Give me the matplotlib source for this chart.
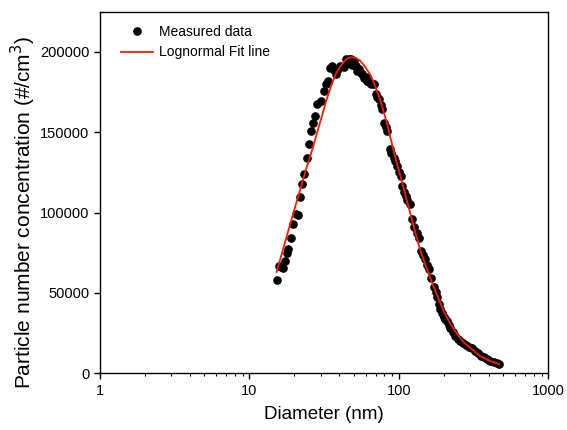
import numpy as np
import matplotlib
matplotlib.use("Agg")
import matplotlib.pyplot as plt
from matplotlib.ticker import FixedLocator, LogLocator, FuncFormatter, MultipleLocator

plt.rcParams['font.family'] = ['Liberation Sans', 'DejaVu Sans']

# --- measured SMPS data (diameter in nm, dN/dlogDp in #/cm3) ---
diam = [15.2, 15.8, 16.3, 16.8, 17.3, 17.9, 18.2, 18.9, 19.6, 20.4, 21.2, 21.7,
        22.6, 23.1, 24.1, 25.0, 25.9, 26.6, 27.3, 28.4, 30.0, 31.4, 32.4, 33.4,
        34.6, 35.9, 36.8, 37.7, 39.0, 40.6, 42.7, 44.0, 45.2, 46.3, 47.5, 48.7,
        50.0, 51.3, 52.6, 54.0, 55.4, 56.9, 58.3, 59.9, 61.5, 63.0, 64.6, 68.0,
        69.8, 71.6, 73.5, 75.4, 77.4, 79.4, 81.5, 83.5, 86.9, 89.0, 92.4, 94.7,
        97.3, 100.0, 102.5, 105.3, 107.9, 110.8, 113.6, 118.4, 122.8, 127.0, 132.6,
        135.4, 140.7, 145.0, 150.2, 154.0, 158.6, 164.7, 171.6, 176.0, 180.3,
        184.9, 189.6, 194.6, 200.0, 205.0, 210.0, 215.0, 220.0, 230.0, 239.0,
        248.0, 258.0, 270.0, 283.0, 296.0, 310.0, 325.0, 340.0, 355.0, 372.0,
        390.0, 409.0, 430.0, 453.0, 470.0]
conc = [57800, 66700, 66000, 65600, 70000, 75000, 77100, 84300, 93100, 98900,
        98300, 109900, 117600, 124200, 134200, 142600, 150900, 156000, 160200,
        167500, 169600, 175800, 180000, 182000, 190000, 191400, 189000, 186200,
        189500, 191400, 190300, 195600, 193000, 195600, 195600, 192000, 194500,
        191000, 188300, 189300, 187000, 186200, 184000, 184500, 182000, 181000,
        180000, 180000, 173700, 172000, 170600, 167000, 164400, 156000, 153000,
        150900, 139400, 137000, 134200, 132000, 129000, 125000, 122800, 116600,
        113000, 110300, 108000, 105200, 95800, 91000, 87500, 84300, 76000, 73500,
        70900, 67500, 64600, 59400, 53700, 50500, 47700, 42800, 40000, 37600,
        35000, 33500, 32400, 30000, 28200, 25500, 23100, 21500, 19900, 18800,
        17900, 16500, 15800, 14000, 12700, 11000, 10000, 9000, 7900, 7200, 6400,
        5500]

# --- lognormal fit line ---
fit_d = [15.2, 17.0, 18.5, 20.0, 21.5, 22.9, 24.5, 26.4, 28.2, 30.3, 33.0, 35.9,
         38.0, 40.7, 43.0, 45.0, 47.0, 48.9, 51.0, 53.0, 55.0, 58.0, 61.0, 64.6,
         68.0, 75.4, 83.5, 92.4, 101.4, 119.5, 139.4, 162.5, 184.9, 199.6, 220.0,
         245.0, 270.0, 300.6, 350.7, 400.0, 470.0]
fit_n = [63000, 79000, 91000, 102000, 112000, 121000, 130000, 139500, 149000,
         159000, 171000, 181000, 186500, 191000, 194000, 195800, 196500, 196600,
         196300, 195500, 194500, 192000, 189000, 185500, 181000, 169500, 155000,
         138000, 124000, 99000, 76000, 59000, 46000, 38500, 31000, 24500, 19500,
         15800, 10600, 8000, 5600]

fig = plt.figure(figsize=(5.67, 4.30), dpi=100)
ax = fig.add_axes([0.1764, 0.1319, 0.7907, 0.841])

ax.plot(diam, conc, 'o', color='black', ms=5.2, mec='black', label='Measured data', zorder=2)
ax.plot(fit_d, fit_n, '-', color='#ff1a00', lw=1.3, label='Lognormal Fit line', zorder=3)

ax.set_xscale('log')
ax.set_xlim(1, 1000)
ax.set_ylim(0, 225000)
ax.xaxis.set_major_locator(FixedLocator([1, 10, 100, 1000]))
ax.xaxis.set_minor_locator(LogLocator(base=10, subs=np.arange(2, 10)))
ax.xaxis.set_major_formatter(FuncFormatter(lambda v, p: f"{v:g}"))
ax.yaxis.set_major_locator(MultipleLocator(50000))
ax.yaxis.set_major_formatter(FuncFormatter(lambda v, p: f"{int(v)}"))

ax.tick_params(which='major', direction='out', length=4, width=1, labelsize=10.5,
               top=False, right=False)
ax.tick_params(which='minor', direction='out', length=2.5, width=0.8, top=False, right=False)
for sp in ax.spines.values():
    sp.set_linewidth(1.0)

ax.set_xlabel("Diameter (nm)", fontsize=13.5, labelpad=6)
ax.set_ylabel("Particle number concentration (#/cm$^3$)", fontsize=15)
ax.yaxis.set_label_coords(-0.139, 0.446)

leg = ax.legend(loc='upper left', frameon=False, fontsize=10, handlelength=2.3,
                handletextpad=0.4, borderaxespad=0.0, labelspacing=0.45,
                bbox_to_anchor=(0.035, 0.978))

fig.savefig("out.png", dpi=100)
